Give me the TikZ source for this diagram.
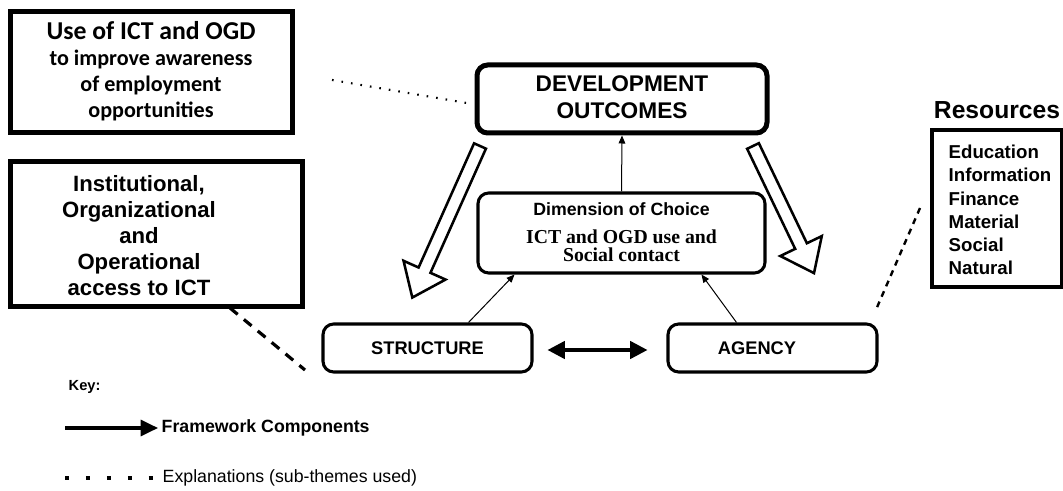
\documentclass[tikz,border=0pt]{standalone}
\usepackage{fontspec}
\setmainfont{Liberation Sans}
\newfontfamily\calib{Carlito}
\newfontfamily\tms{Liberation Serif}
\usetikzlibrary{arrows.meta,calc}
\newcommand\fs[2]{\fontsize{#1pt}{#2pt}\selectfont}
\tikzset{
  thickbox/.style={draw, line width=3.75pt, inner sep=0pt},
  roundbox/.style={draw, rounded corners=8pt, inner sep=0pt},
  thinarrow/.style={line width=0.75pt, -{Triangle[length=6pt,width=5pt]}},
  hollowarrow/.style={draw, line width=1.9pt, fill=white, line join=miter},
  dotline/.style={line width=1.6pt, dash pattern=on 1.2pt off 6pt},
  dashline/.style={line width=2.4pt, dash pattern=on 7.5pt off 6pt},
  dashlineb/.style={line width=1.8pt, dash pattern=on 4.5pt off 4pt},
}
\newcommand\bigarrow[3]{% tail, angle, length
  \begin{scope}[shift={#1}, rotate=#2]
    \path[hollowarrow] (0,-6.5) -- (#3-30,-6.5) -- (#3-30,-23) -- (#3,0) -- (#3-30,23) -- (#3-30,6.5) -- (0,6.5) -- cycle;
  \end{scope}}
\begin{document}
\begin{tikzpicture}[x=0.75pt,y=-0.75pt]
\useasboundingbox (0,0) rectangle (1063,491);

% top-left explanation box
\node[thickbox, minimum width=282*0.75pt, minimum height=121*0.75pt] (use) at (151,72.5) {};
\node[align=center, font=\calib\bfseries\fs{16.6}{19.5}] (usetext) at (151,71) {{\fs{19.3}{18}Use of ICT and OGD}\\ to improve awareness\\ of employment\\ opportunities};

% institutional box
\node[thickbox, minimum width=292*0.75pt, minimum height=145*0.75pt] (inst) at (156,234.5) {};
\node[align=center, font=\bfseries\fs{16.6}{19.5}] (insttext) at (139,236) {Institutional,\\ Organizational\\ and\\ Operational\\ access to ICT};

% development outcomes
\node[roundbox, line width=3.75pt, minimum width=290*0.75pt, minimum height=68*0.75pt] (dev) at (622,99) {};
\node[align=center, font=\bfseries\fs{17}{20}] (devtext) at (622,97) {DEVELOPMENT\\ OUTCOMES};

% dimension of choice
\node[roundbox, line width=2.3pt, minimum width=287*0.75pt, minimum height=80*0.75pt] (dim) at (621.5,233) {};
\node[font=\bfseries\fs{13.3}{15}] (dimtitle) at (621.5,209) {Dimension of Choice};
\node[align=center, font=\tms\bfseries\fs{14.8}{13.5}] (dimtext) at (621.5,246) {ICT and OGD use and\\ Social contact};

% structure / agency
\node[roundbox, line width=2.3pt, minimum width=209*0.75pt, minimum height=48*0.75pt, font=\bfseries\fs{13.7}{15}] (struct) at (427.5,348) {STRUCTURE};
\node[roundbox, line width=2.3pt, minimum width=209*0.75pt, minimum height=48*0.75pt] (agency) at (772.5,348) {};
\node[font=\bfseries\fs{13.7}{15}] (agencytext) at (757,348) {AGENCY};

% resources
\node[font=\bfseries\fs{18.5}{20}] (reslabel) at (997,110) {Resources};
\node[draw, line width=2.3pt, minimum width=130*0.75pt, minimum height=157*0.75pt, inner sep=0pt] (res) at (997,208.5) {};
\node[align=left, anchor=west, font=\bfseries\fs{14}{17.4}] (restext) at (944,210) {Education\\ Information\\ Finance\\ Material\\ Social\\ Natural};

% thin arrows
\draw[thinarrow] (dim.north) -- (dev.south);
\coordinate (s1) at ($(struct.north)+(41,0)$);
\coordinate (d1) at ($(dim.south)+(-107,0)$);
\draw[thinarrow] (s1) -- (d1);
\coordinate (a1) at ($(agency.north)+(-36,0)$);
\coordinate (d2) at ($(dim.south)+(80,0)$);
\draw[thinarrow] (a1) -- (d2);

% double arrow
\coordinate (da1) at ($(struct.east)+(14,2)$);
\coordinate (da2) at ($(agency.west)+(-19,2)$);
\draw[line width=2.6pt, {Triangle[length=13pt,width=13pt]}-{Triangle[length=13pt,width=13pt]}] (da1) -- (da2);

% big hollow arrows
\coordinate (lt) at (480,146);
\coordinate (rt) at (753,146);
\bigarrow{(lt)}{-114.07}{166}
\bigarrow{(rt)}{-64.36}{141}

% explanation connectors
\coordinate (e1) at (332,80);
\draw[dotline] (e1) -- ($(dev.west)+(-8,4)$);
\coordinate (e2) at (230,308);
\coordinate (e2b) at (305,370);
\draw[dashline] (e2) -- (e2b);
\coordinate (e3) at (920,208);
\coordinate (e3b) at (875,312);
\draw[dashlineb] (e3) -- (e3b);

% key
\node[anchor=west, font=\bfseries\fs{11}{13}] (key) at (64,387) {Key:};
\coordinate (k1) at (65,428);
\coordinate (k2) at (158,428);
\draw[line width=2.4pt, -{Triangle[length=13pt,width=12pt]}] (k1) -- (k2);
\node[anchor=west, font=\bfseries\fs{13.3}{15}] (fw) at (157,428) {Framework Components};
\coordinate (k3) at (65,478);
\coordinate (k4) at (155,478);
\draw[line width=3pt, dash pattern=on 3pt off 12.7pt] (k3) -- (k4);
\node[anchor=west, font=\fs{13.3}{15}] (ex) at (158,478) {Explanations (sub-themes used)};
\end{tikzpicture}
\end{document}
